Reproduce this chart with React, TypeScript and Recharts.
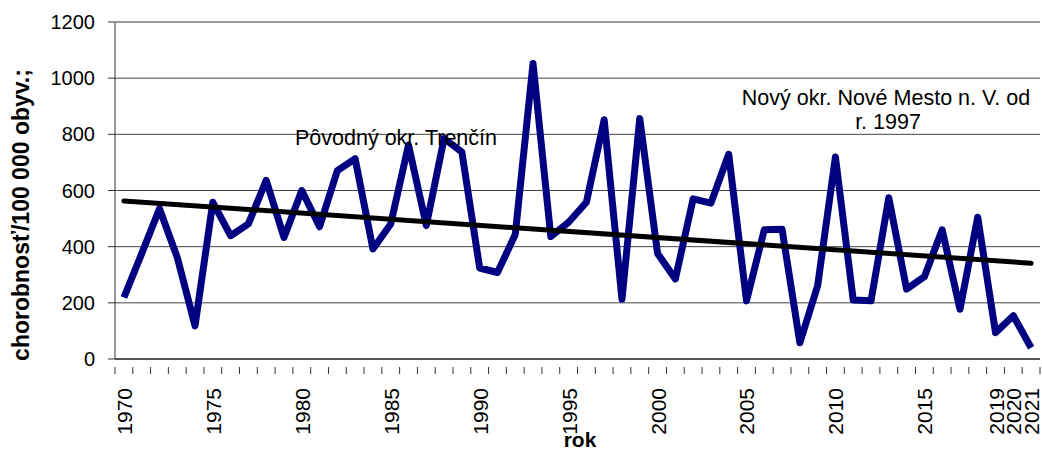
import { LineChart, Line, XAxis, YAxis, CartesianGrid, ReferenceLine } from 'recharts'

const years = [
  '1970', '1971', '1972', '1973', '1974', '1975', '1976', '1977', '1978', '1979',
  '1980', '1981', '1982', '1983', '1984', '1985', '1986', '1987', '1988', '1989',
  '1990', '1991', '1992', '1993', '1994', '1995', '1996', '1997', '1998', '1999',
  '2000', '2001', '2002', '2003', '2004', '2005', '2006', '2007', '2008', '2009',
  '2010', '2011', '2012', '2013', '2014', '2015', '2016', '2017', '2018', '2019',
  '2020', '2021'
]

const incidence = [
  219, 375, 535, 362, 118, 558, 439, 481, 636, 433,
  600, 471, 671, 713, 392, 481, 762, 475, 785, 737,
  324, 308, 443, 1052, 436, 487, 558, 852, 213, 856,
  376, 285, 570, 555, 729, 207, 460, 462, 58, 261,
  719, 210, 207, 574, 249, 293, 460, 177, 505, 94,
  154, 40
]

const labeledYears = ['1970', '1975', '1980', '1985', '1990', '1995', '2000', '2005', '2010', '2015', '2019', '2020', '2021']
const yTicks = [0, 200, 400, 600, 800, 1000, 1200]

// trend line end points
const trendStart = 563
const trendEnd = 341

const data = years.map((y, i) => ({ year: y, value: incidence[i] }))

const W = 1042
const H = 450
const LEFT = 115
const RIGHT = 2
const halfBand = (W - LEFT - RIGHT) / years.length / 2

const font = '"Liberation Sans", Arial, sans-serif'

function YearTick(props: any) {
  const { x, y, payload, index } = props
  const show = labeledYears.includes(payload.value)
  const tx = x + 8
  const ty = y + 21
  return (
    <g>
      <line x1={x - halfBand} y1={y} x2={x - halfBand} y2={y + 7} stroke="#333" />
      {index === years.length - 1 && (
        <line x1={x + halfBand} y1={y} x2={x + halfBand} y2={y + 7} stroke="#333" />
      )}
      {show && (
        <text
          x={tx}
          y={ty}
          transform={`rotate(-90 ${tx} ${ty})`}
          textAnchor="end"
          fontSize={21}
          fontFamily={font}
          fill="#000"
        >
          {payload.value}
        </text>
      )}
    </g>
  )
}

export default function App() {
  return (
    <div style={{ position: 'absolute', left: 0, top: 0, width: W, height: H, background: '#fff' }}>
      <LineChart width={W} height={H} data={data} margin={{ top: 22, right: RIGHT, bottom: 0, left: 0 }}>
        <CartesianGrid vertical={false} stroke="#444" />
        <XAxis
          dataKey="year"
          interval={0}
          height={91}
          padding={{ left: halfBand, right: halfBand }}
          tickLine={false}
          axisLine={{ stroke: '#555', strokeWidth: 2 }}
          tick={<YearTick />}
        />
        <YAxis
          width={LEFT}
          domain={[0, 1200]}
          ticks={yTicks}
          tickSize={7}
          tickMargin={13}
          axisLine={{ stroke: '#333' }}
          tickLine={{ stroke: '#333' }}
          tick={{ fontSize: 20, fontFamily: font, fill: '#000' }}
        />
        <YAxis
          yAxisId="r"
          orientation="right"
          width={0}
          domain={[0, 1]}
          tick={false}
          tickLine={false}
          axisLine={{ stroke: '#888', strokeWidth: 2 }}
        />
        <Line
          dataKey="value"
          stroke="#000080"
          strokeWidth={7}
          strokeLinejoin="round"
          dot={false}
          isAnimationActive={false}
        />
        <ReferenceLine
          segment={[{ x: '1970', y: trendStart }, { x: '2021', y: trendEnd }]}
          stroke="#000"
          strokeWidth={5}
          strokeLinecap="round"
        />
      </LineChart>
      <svg
        width={W}
        height={H}
        style={{ position: 'absolute', left: 0, top: 0, pointerEvents: 'none' }}
        fontFamily={font}
      >
        <line x1={LEFT} y1={22} x2={W - RIGHT} y2={22} stroke="#999" strokeWidth={2} />
        <text
          x={29}
          y={215}
          transform="rotate(-90 29 215)"
          textAnchor="middle"
          fontSize={23}
          fontWeight="bold"
        >
          chorobnosť/100 000 obyv.;
        </text>
        <text x={580} y={447} textAnchor="middle" fontSize={21} fontWeight="bold">
          rok
        </text>
        <text x={396} y={145} textAnchor="middle" fontSize={21.5}>
          Pôvodný okr. Trenčín
        </text>
        <text x={886} y={105} textAnchor="middle" fontSize={21.5}>
          Nový okr. Nové Mesto n. V. od
        </text>
        <text x={888} y={129} textAnchor="middle" fontSize={21.5}>
          r. 1997
        </text>
      </svg>
    </div>
  )
}
